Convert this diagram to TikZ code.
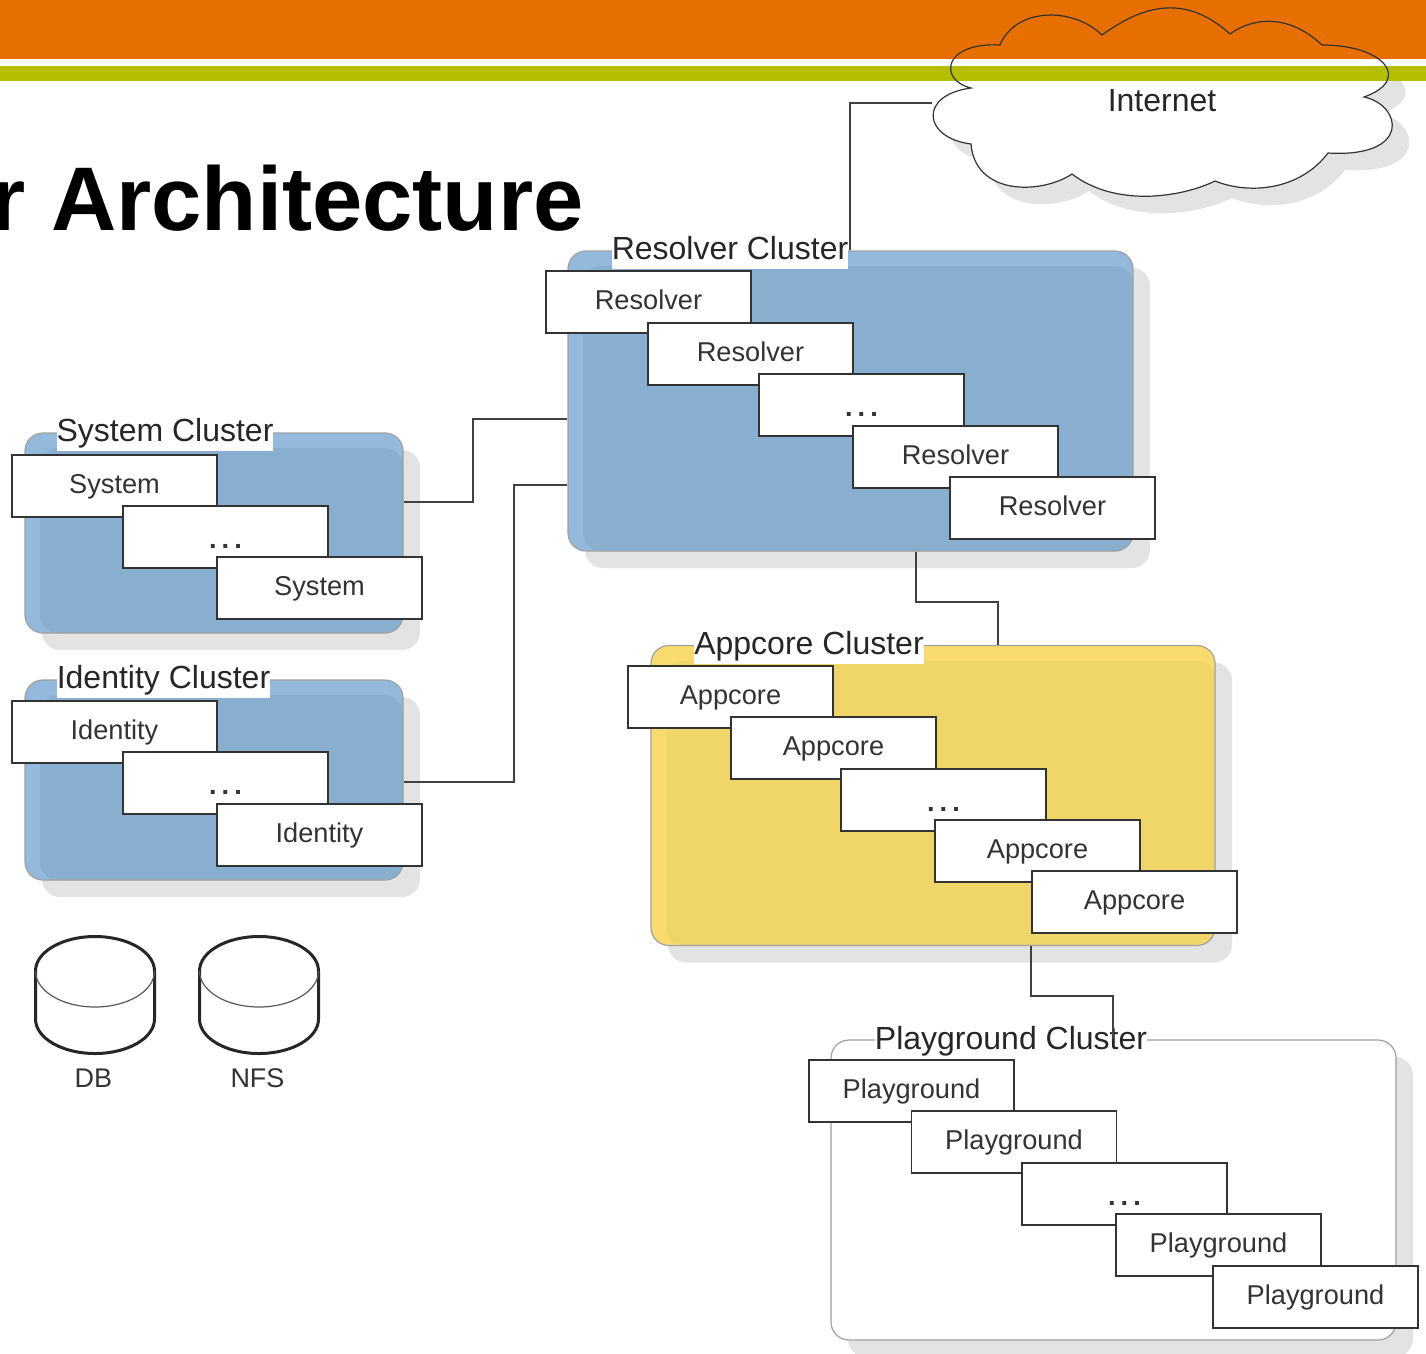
\documentclass[tikz,border=0pt]{standalone}
\usepackage{fontspec}
\setmainfont{Liberation Sans}
\usetikzlibrary{calc,shadows}
\definecolor{headorange}{HTML}{E66F00}
\definecolor{headgreen}{HTML}{B3BF00}
\definecolor{shadowgray}{HTML}{E3E3E3}
\definecolor{bluelight}{HTML}{93BADC}
\definecolor{bluemain}{HTML}{89AFD0}
\definecolor{yellowlight}{HTML}{FADC6E}
\definecolor{yellowmain}{HTML}{F0D569}
\definecolor{inkgray}{HTML}{333333}
\definecolor{wiregray}{HTML}{404040}
\definecolor{edgegray}{HTML}{A0A0A0}
\tikzset{
  clusterbase/.style={rounded corners=18pt,draw=edgegray,line width=1.2pt,inner sep=0pt,
    minimum width=#1,
    general shadow={shadow xshift=17pt,shadow yshift=-17pt,fill=shadowgray,opacity=1}},
  bluecluster/.style={clusterbase=#1,fill=bluelight,minimum height=200pt,
    path picture={\fill[bluemain] ($(path picture bounding box.north west)+(15,15)$) rectangle (path picture bounding box.south east);}},
  resolvercluster/.style={bluecluster=565pt,minimum height=300pt},
  appcorecluster/.style={clusterbase=564pt,fill=yellowlight,minimum height=300pt,
    path picture={\fill[yellowmain] ($(path picture bounding box.north west)+(15,15)$) rectangle (path picture bounding box.south east);}},
  playcluster/.style={clusterbase=565pt,fill=white,minimum height=300pt},
  clusterlabel/.style={fill=white,inner xsep=0pt,inner ysep=0pt,text height=26pt,text depth=10pt,anchor=base,
    font=\fontsize{32}{36}\selectfont,text=black!85},
  boxnode/.style={draw=inkgray,fill=white,line width=1.3pt,minimum width=205pt,minimum height=62pt,inner sep=0pt,
    text height=20pt,text depth=6pt,font=\fontsize{27.2}{30}\selectfont,text=black!80},
  dotsnode/.style={boxnode,text height=24pt,text depth=2pt},
  conn/.style={draw=wiregray,line width=2pt},
  cloudline/.style={draw=inkgray,line width=1.2pt},
  diskoutline/.style={draw=black!85,line width=3pt,fill=white},
  diskrim/.style={draw=black!65,line width=1.2pt},
  caption/.style={font=\fontsize{27}{30}\selectfont,text=black!80,inner sep=0pt}
}
\newcommand{\dotrow}{\bfseries.\kern5pt.\kern5pt.}
\begin{document}
\begin{tikzpicture}[x=1pt,y=-1pt]
\useasboundingbox (0,0) rectangle (1426,1353);
\clip (0,0) rectangle (1426,1353);
% cloud body, which lies under the header bands
\def\cloudpath{(1000,45) .. controls (1015,8) and (1072,6) .. (1102,35)
  .. controls (1150,0) and (1190,-2) .. (1230,34)
  .. controls (1255,16) and (1290,15) .. (1322,45)
  .. controls (1385,45) and (1412,80) .. (1364,97)
  .. controls (1402,105) and (1412,158) .. (1328,153)
  .. controls (1300,190) and (1250,195) .. (1215,181)
  .. controls (1180,198) and (1115,207) .. (1072,174)
  .. controls (1040,195) and (975,195) .. (971,144)
  .. controls (923,138) and (918,95) .. (971,88)
  .. controls (938,80) and (943,42) .. (1000,45) -- cycle}
\fill[shadowgray,shift={(17,17)}] \cloudpath;
\fill[white] \cloudpath;
% header
\fill[white] (0,59) rectangle (1426,66);
\fill[headorange] (0,0) rectangle (1426,59);
\fill[headgreen] (0,66) rectangle (1426,81);
% cloud outline over the header
\path[cloudline] \cloudpath;
% title
\node[anchor=base east,inner sep=0pt,font=\fontsize{90.4}{96}\bfseries\selectfont,text=black] (title) at (584,230) {r Architecture};
\node[minimum width=460pt,minimum height=188pt,inner sep=0pt,text height=24pt,text depth=8pt,
  font=\fontsize{32}{36}\selectfont,text=black!85] (internet) at (1162,103) {Internet};
% clusters
\node[resolvercluster] (resolver) at (850.5,401) {};
\node[bluecluster=378pt] (system) at (214,533) {};
\node[bluecluster=378pt] (identity) at (214,780) {};
\node[appcorecluster] (appcore) at (933,795.5) {};
\node[playcluster] (playground) at (1113.5,1190) {};
% cluster titles
\node[clusterlabel] (resolverlabel) at (730,259) {Resolver Cluster};
\node[clusterlabel] (systemlabel) at (165,441) {System Cluster};
\node[clusterlabel] (identitylabel) at (163.5,688) {Identity Cluster};
\node[clusterlabel] (appcorelabel) at (809,654) {Appcore Cluster};
\node[clusterlabel] (playgroundlabel) at (1011,1049) {Playground Cluster};
% resolver boxes
\node[boxnode] (r1) at (648.5,302) {Resolver};
\node[boxnode] (r2) at (750.5,354) {Resolver};
\node[dotsnode] (r3) at (861.5,405) {\dotrow};
\node[boxnode] (r4) at (955.5,457) {Resolver};
\node[boxnode] (r5) at (1052.5,508) {Resolver};
% system boxes
\node[boxnode] (s1) at (114.5,486) {System};
\node[dotsnode] (s2) at (225.5,537) {\dotrow};
\node[boxnode] (s3) at (319.5,588) {System};
% identity boxes
\node[boxnode] (i1) at (114.5,732) {Identity};
\node[dotsnode] (i2) at (225.5,783) {\dotrow};
\node[boxnode] (i3) at (319.5,835) {Identity};
% appcore boxes
\node[boxnode] (a1) at (730.5,697) {Appcore};
\node[boxnode] (a2) at (833.5,748) {Appcore};
\node[dotsnode] (a3) at (943.5,800) {\dotrow};
\node[boxnode] (a4) at (1037.5,851) {Appcore};
\node[boxnode] (a5) at (1134.5,902) {Appcore};
% playground boxes
\node[boxnode] (p1) at (911.5,1091) {Playground};
\node[boxnode] (p2) at (1014,1142) {Playground};
\node[dotsnode] (p3) at (1124.5,1194) {\dotrow};
\node[boxnode] (p4) at (1218.5,1245) {Playground};
\node[boxnode] (p5) at (1315.5,1297) {Playground};
% connectors
\draw[conn] (internet.west) -| ($(resolver.north west)+(282.5,0)$);
\draw[conn] ($(system.south east)+(0,-132)$) -- ++(69,0) |- ($(resolver.north west)+(0,169)$);
\draw[conn] ($(identity.south east)+(0,-99)$) -- ++(110,0) |- ($(resolver.north west)+(0,235)$);
\draw[conn] ($(resolver.south west)+(348.5,0)$) -- ++(0,50) -| ($(appcore.north west)+(347.5,0)$);
\draw[conn] ($(appcore.south west)+(380.5,0)$) -- ++(0,50) -| ($(playground.north west)+(282.5,0)$);
% storage
\path[diskoutline] (35.5,971) arc[start angle=180,end angle=360,x radius=59.5,y radius=34.5] -- (154.5,1019) arc[start angle=0,end angle=180,x radius=59.5,y radius=34.5] -- cycle;
\draw[diskrim] (35.5,971) arc[start angle=180,end angle=0,x radius=59.5,y radius=36];
\path[diskoutline] (199.5,971) arc[start angle=180,end angle=360,x radius=59.5,y radius=34.5] -- (318.5,1019) arc[start angle=0,end angle=180,x radius=59.5,y radius=34.5] -- cycle;
\draw[diskrim] (199.5,971) arc[start angle=180,end angle=0,x radius=59.5,y radius=36];
\node[caption] (dblabel) at (93.5,1078) {DB};
\node[caption] (nfslabel) at (257.5,1078) {NFS};
\end{tikzpicture}
\end{document}
